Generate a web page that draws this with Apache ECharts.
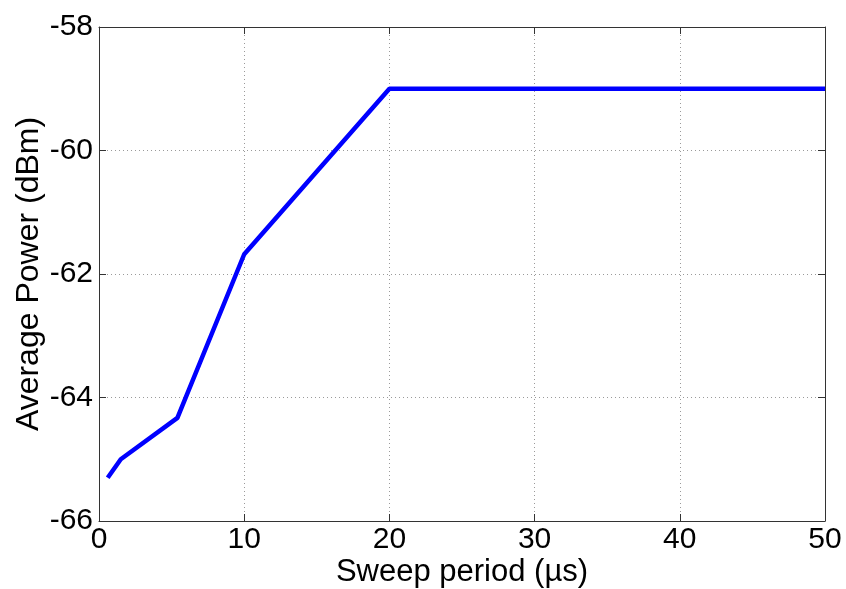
<!DOCTYPE html>
<html>
<head>
<meta charset="utf-8">
<script src="https://cdn.jsdelivr.net/npm/echarts@6/dist/echarts.min.js"></script>
<style>html,body{margin:0;padding:0;background:#fff}#c{width:846px;height:589px}</style>
</head>
<body>
<div id="c"></div>
<script>
const sweepPeriod = [0.6, 1.5, 5.4, 10, 20, 50];
const avgPower = [-65.3, -65.0, -64.33, -61.68, -59.0, -59.0];
const xTicks = [0, 10, 20, 30, 40, 50];
const yTicks = [-66, -64, -62, -60, -58];
const xTitle = 'Sweep period (µs)';
const yTitle = 'Average Power (dBm)';

const FONT = '"Liberation Sans", Arial, sans-serif';
const chart = echarts.init(document.getElementById('c'), null, {renderer: 'canvas'});
const lineStyle = {color: '#333', width: 1};
const gridStyle = {show: true, lineStyle: {color: '#9a9a9a', type: [1, 3], width: 1}};
chart.setOption({
  animation: false,
  backgroundColor: '#fff',
  grid: {left: 99, right: 21, top: 27, bottom: 68, containLabel: false, outerBoundsMode: 'none'},
  xAxis: [{
    type: 'value', min: xTicks[0], max: xTicks[xTicks.length - 1], interval: 10,
    position: 'bottom',
    name: xTitle, nameLocation: 'middle', nameGap: 36, nameMoveOverlap: false,
    nameTextStyle: {fontFamily: FONT, fontSize: 31, color: '#000'},
    axisLine: {show: true, onZero: false, lineStyle: lineStyle},
    axisTick: {show: true, inside: true, length: 7, lineStyle: lineStyle},
    axisLabel: {fontFamily: FONT, fontSize: 30, color: '#000', margin: 4},
    splitLine: gridStyle
  }, {
    type: 'value', min: xTicks[0], max: xTicks[xTicks.length - 1], interval: 10,
    position: 'top',
    axisLine: {show: true, onZero: false, lineStyle: lineStyle},
    axisTick: {show: true, inside: true, length: 7, lineStyle: lineStyle},
    axisLabel: {show: false}, splitLine: {show: false}
  }],
  yAxis: [{
    type: 'value', min: yTicks[0], max: yTicks[yTicks.length - 1], interval: 2,
    position: 'left',
    name: yTitle, nameLocation: 'middle', nameGap: 54, nameRotate: 90, nameMoveOverlap: false,
    nameTextStyle: {fontFamily: FONT, fontSize: 32, color: '#000'},
    axisLine: {show: true, onZero: false, lineStyle: lineStyle},
    axisTick: {show: true, inside: true, length: 7, lineStyle: lineStyle},
    axisLabel: {fontFamily: FONT, fontSize: 30, color: '#000', margin: 6},
    splitLine: gridStyle
  }, {
    type: 'value', min: yTicks[0], max: yTicks[yTicks.length - 1], interval: 2,
    position: 'right',
    axisLine: {show: true, onZero: false, lineStyle: lineStyle},
    axisTick: {show: true, inside: true, length: 7, lineStyle: lineStyle},
    axisLabel: {show: false}, splitLine: {show: false}
  }],
  series: [{
    type: 'line',
    data: sweepPeriod.map((x, i) => [x, avgPower[i]]),
    symbol: 'none',
    lineStyle: {color: '#0000ff', width: 4.5},
    clip: true
  }]
});
</script>
</body>
</html>
